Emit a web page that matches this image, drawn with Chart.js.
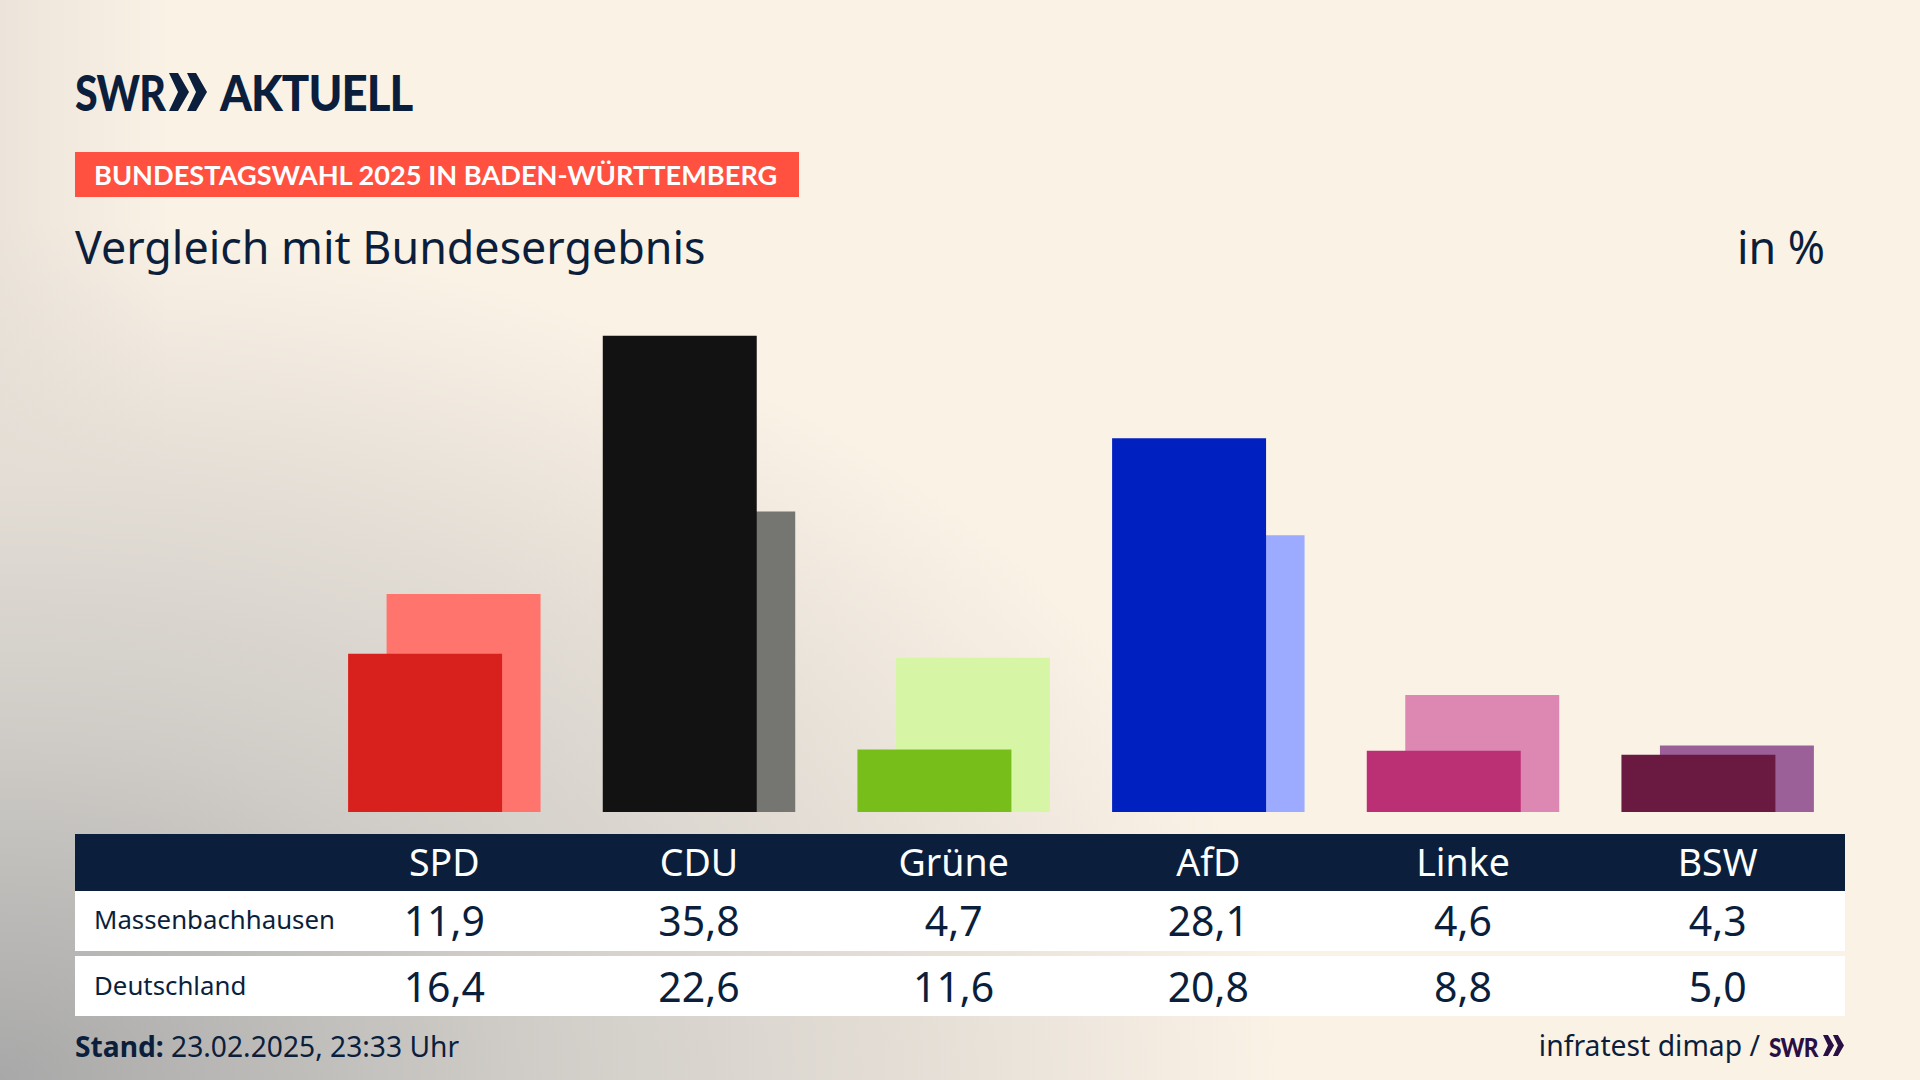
<!DOCTYPE html>
<html lang="de">
<head>
<meta charset="utf-8">
<title>Vergleich mit Bundesergebnis</title>
<script src="https://cdn.jsdelivr.net/npm/chart.js@4"></script>
<style>
  html, body { margin: 0; padding: 0; }
  body {
    position: relative; width: 1920px; height: 1080px; overflow: hidden;
    font-family: "Noto Sans", Lato, sans-serif; color: #0b1f3d;
    background:
      radial-gradient(ellipse 1280px 860px at 0 100%, #a8a8a8 0%, #cfccc7 40%, #e3ddd5 70%, rgba(251,242,230,0) 100%),
      linear-gradient(90deg, #ece4da 0, #fbf2e6 170px);
  }
  .abs { position: absolute; white-space: nowrap; line-height: 1; }
  .squeeze { transform-origin: 0 50%; font-family: Lato, sans-serif; font-weight: 900; }
  #logoSwr { left: 75px; top: 68px; font-size: 49px; transform: scaleX(0.84); letter-spacing: -1px; }
  #logoChevrons { left: 169px; top: 73px; width: 38px; height: 38px; }
  #logoName { left: 220px; top: 68px; font-size: 49px; transform: scaleX(0.93); letter-spacing: -1px; }
  #banner { left: 75px; top: 152px; width: 724px; height: 45px; background: #ff5040; }
  #bannerText { left: 94px; top: 161px; font-size: 27.2px; font-weight: 700; color: #fff; font-family: Lato, sans-serif; }
  #title { left: 75px; top: 225px; font-size: 44.8px; }
  #unit { right: 95px; top: 225px; font-size: 44.8px; }
  #chartBox { position: absolute; left: 317px; top: 280px; width: 1528px; height: 532px; }
  #rows div.band { position: absolute; left: 75px; width: 1770px; }
  .head { background: #0b1f3d; top: 834px; height: 57px; }
  .one { background: #fff; top: 891px; height: 60px; }
  .two { background: #fff; top: 956px; height: 60px; }
  .cell { width: 254px; margin-left: -127px; text-align: center; }
  .cell.hd { color: #fff; font-size: 37.5px; top: 843px; }
  .cell.val { font-size: 41px; }
  .lbl { left: 94px; font-size: 25.8px; }
  #stand { left: 75px; top: 1032px; font-size: 28.2px; }
  #source { right: 160px; top: 1031px; font-size: 28.3px; }
  #srcLogo { left: 1769px; top: 1033px; font-size: 27px; color: #2a0f45; transform: scaleX(0.84); letter-spacing: -1px; }
  #srcChevrons { left: 1823px; top: 1035px; width: 21px; height: 21px; }
</style>
</head>
<body>
  <div class="abs squeeze" id="logoSwr">SWR</div>
  <svg class="abs" id="logoChevrons" viewBox="0 0 38 38"><path fill="#0b1f3d" d="M0 0 L9 0 L20 19 L9 38 L0 38 L9 19 Z M18 0 L27 0 L38 19 L27 38 L18 38 L27 19 Z"/></svg>
  <div class="abs squeeze" id="logoName">AKTUELL</div>
  <div class="abs" id="banner"></div>
  <div class="abs" id="bannerText">BUNDESTAGSWAHL 2025 IN BADEN-WÜRTTEMBERG</div>
  <div class="abs" id="title">Vergleich mit Bundesergebnis</div>
  <div class="abs" id="unit">in %</div>
  <div id="chartBox"><canvas id="bars" width="1528" height="532"></canvas></div>
  <div id="rows">
    <div class="band head"></div>
    <div class="band one"></div>
    <div class="band two"></div>
  </div>
  <div class="abs" id="stand"><b>Stand:</b> 23.02.2025, 23:33 Uhr</div>
  <div class="abs" id="source">infratest dimap /</div>
  <div class="abs squeeze" id="srcLogo">SWR</div>
  <svg class="abs" id="srcChevrons" viewBox="0 0 38 38"><path fill="#2a0f45" d="M0 0 L9 0 L20 19 L9 38 L0 38 L9 19 Z M18 0 L27 0 L38 19 L27 38 L18 38 L27 19 Z"/></svg>

<script>
const PARTIES = ['SPD', 'CDU', 'Grüne', 'AfD', 'Linke', 'BSW'];
const LOCAL_NAME = 'Massenbachhausen';
const LOCAL_VALUES = [11.9, 35.8, 4.7, 28.1, 4.6, 4.3];
const NATIONAL_NAME = 'Deutschland';
const NATIONAL_VALUES = [16.4, 22.6, 11.6, 20.8, 8.8, 5.0];
const LOCAL_COLORS = ['#d8211d', '#121212', '#78be1b', '#0021bf', '#bb2f74', '#6a1a40'];
const NATIONAL_COLORS = ['#ff746c', '#757571', '#d6f6a6', '#9cabff', '#dd87b3', '#9b6098'];

const CHART_LEFT = 317;
const COLUMN = 1528 / PARTIES.length;

(function() {
  new Chart(document.getElementById('bars'), {
    type: 'bar',
    data: {
      labels: PARTIES,
      datasets: [
        { label: LOCAL_NAME, data: LOCAL_VALUES, backgroundColor: LOCAL_COLORS },
        { label: NATIONAL_NAME, data: NATIONAL_VALUES, backgroundColor: NATIONAL_COLORS }
      ]
    },
    options: {
      responsive: false,
      animation: false,
      // slots narrower than the bars, so the two bars of a party overlap
      barPercentage: 4,
      categoryPercentage: 0.3023,
      borderWidth: 0,
      layout: { padding: 0 },
      plugins: { legend: { display: false }, tooltip: { enabled: false } },
      scales: {
        x: { display: false },
        y: { display: false, min: 0, max: 40 }
      }
    }
  })

  renderTable()
})()

function formatValue (value) {
  return value.toFixed(1).replace('.', ',')
}

function addText (text, className, left, top) {
  let el = document.createElement('div')
  el.className = 'abs ' + className
  el.textContent = text
  if (left !== null) el.style.left = left + 'px'
  if (top !== null) el.style.top = top + 'px'
  document.getElementById('rows').appendChild(el)
}

function renderTable () {
  addText(LOCAL_NAME, 'lbl', null, 907)
  addText(NATIONAL_NAME, 'lbl', null, 973)
  PARTIES.forEach((party, i) => {
    let center = CHART_LEFT + COLUMN * (i + 0.5)
    addText(party, 'cell hd', center, null)
    addText(formatValue(LOCAL_VALUES[i]), 'cell val', center, 900)
    addText(formatValue(NATIONAL_VALUES[i]), 'cell val', center, 966)
  })
}
</script>
</body>
</html>
